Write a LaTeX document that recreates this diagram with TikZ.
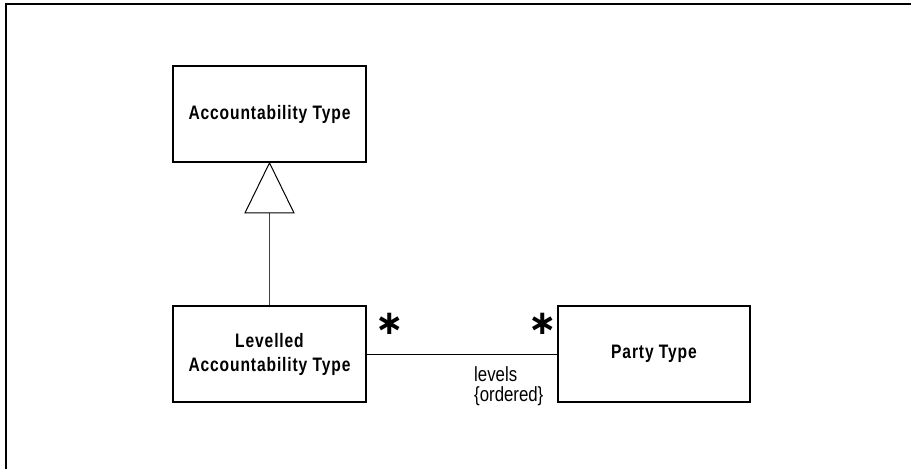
\documentclass[tikz,border=0pt]{standalone}
\usepackage{fontspec}
\newfontfamily\clsfont[FakeStretch=0.8,LetterSpace=4.5]{Liberation Sans Bold}
\newfontfamily\lblfont[FakeStretch=0.82]{Liberation Sans}
\newfontfamily\symfont{DejaVu Sans Bold}
\begin{document}
\begin{tikzpicture}[x=1pt,y=-1pt,
  classbox/.style={draw=black,line width=1.8pt,fill=white,minimum width=193pt,minimum height=96pt,
    inner sep=0pt,align=center,font=\clsfont\fontsize{19.5}{24}\selectfont},
  assoc/.style={draw=black,line width=1pt},
  genline/.style={draw=black!75,line width=1pt},
  mult/.style={inner sep=0pt,font=\symfont\fontsize{34}{34}\selectfont},
  rolelabel/.style={inner sep=0pt,align=left,font=\lblfont\fontsize{20.5}{20}\selectfont}]
  \useasboundingbox (0,0) rectangle (911,469);
  % open frame: top and left edges
  \draw[line width=2pt] (6,469) -- (6,4) -- (911,4);
  % classes
  \node[classbox] (acc) at (269.5,114) {Accountability Type};
  \node[classbox] (lev) at (269.5,354) {Levelled\\Accountability Type};
  \node[classbox,minimum width=192pt] (party) at (654,354) {Party Type};
  % generalisation: hollow triangle under the superclass
  \coordinate (tip) at (acc.south);
  \coordinate (tribase) at ([yshift=-50pt]acc.south);
  \draw[genline] (tribase) -- (lev.north);
  \draw[line width=1pt,fill=white] (tip) -- ([xshift=-24.5pt]tribase) -- ([xshift=24.5pt]tribase) -- cycle;
  % association with multiplicities and role label
  \draw[assoc] (lev.east) -- (party.west);
  \node[mult] (m1) at (390,324) {∗};
  \node[mult] (m2) at (543,324) {∗};
  \node[rolelabel,anchor=north west] (role) at (474,366) {levels\\\{ordered\}};
\end{tikzpicture}
\end{document}
